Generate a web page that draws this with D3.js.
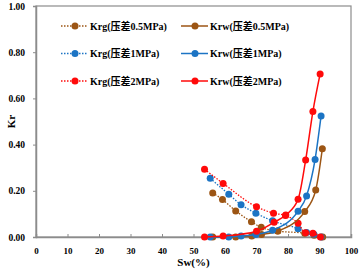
<!DOCTYPE html>
<html>
<head>
<meta charset="utf-8">
<script src="https://cdn.jsdelivr.net/npm/d3@7"></script>
<style>
  body { margin: 0; background: #fff; }
  text { font-family: "Liberation Serif", "Noto Sans CJK SC", serif; font-weight: bold; }
</style>
</head>
<body>
<script>
// data
let sw05g = [56.1, 59.2, 63.4, 68.4, 71.5, 76.7, 85.3, 88.3, 91.0],
    krg05 = [0.191, 0.162, 0.113, 0.066, 0.042, 0.026, 0.016, 0.008, 0];
let sw05w = [56.1, 63.4, 68.5, 71.6, 76.8, 85.3, 88.8, 90.9],
    krw05 = [0, 0, 0.004, 0.011, 0.026, 0.11, 0.203, 0.382];
let sw1g = [55.3, 61.2, 65.1, 69.8, 75.1, 83.2, 85.9, 88.2, 90.5],
    krg1 = [0.254, 0.185, 0.14, 0.103, 0.07, 0.036, 0.02, 0.012, 0];
let sw1w = [55.3, 61.2, 65.1, 69.8, 75.1, 83.2, 85.9, 88.6, 90.5],
    krw1 = [0, 0, 0.004, 0.011, 0.029, 0.112, 0.178, 0.336, 0.524];
let sw2g = [53.5, 59.4, 70.0, 75.4, 79.2, 83.2, 85.6, 87.9, 90.3],
    krg2 = [0.293, 0.232, 0.131, 0.103, 0.093, 0.059, 0.018, 0.016, 0];
let sw2w = [53.5, 59.4, 70.0, 75.6, 79.3, 83.2, 85.6, 87.9, 90.2],
    krw2 = [0, 0.004, 0.025, 0.064, 0.095, 0.163, 0.333, 0.543, 0.706];

let xTicks = [0, 10, 20, 30, 40, 50, 60, 70, 80, 90, 100];
let yTicks = [0, 0.2, 0.4, 0.6, 0.8, 1.0];

let series = [
  {name: "Krg(压差0.5MPa)", sw: sw05g, kr: krg05, color: "#9C5514", dotted: true, col: 0, row: 0},
  {name: "Krg(压差1MPa)", sw: sw1g, kr: krg1, color: "#1C74C4", dotted: true, col: 0, row: 1},
  {name: "Krg(压差2MPa)", sw: sw2g, kr: krg2, color: "#FF0A0A", dotted: true, col: 0, row: 2},
  {name: "Krw(压差0.5MPa)", sw: sw05w, kr: krw05, color: "#9C5514", dotted: false, col: 1, row: 0},
  {name: "Krw(压差1MPa)", sw: sw1w, kr: krw1, color: "#1C74C4", dotted: false, col: 1, row: 1},
  {name: "Krw(压差2MPa)", sw: sw2w, kr: krw2, color: "#FF0A0A", dotted: false, col: 1, row: 2}
];

let margin = {top: 6, right: 8, bottom: 34, left: 36},
    width = 359 - margin.left - margin.right,
    height = 271 - margin.top - margin.bottom;

let svg = d3.select("body")
  .append("svg")
  .attr("width", 359)
  .attr("height", 271)
  .append("g")
  .attr("transform", "translate(" + margin.left + "," + margin.top + ")");

let x = d3.scaleLinear().domain([0, 100]).range([0, width]);
let y = d3.scaleLinear().domain([0, 1]).range([height, 0]);

// frame
svg.append("rect")
  .attr("width", width).attr("height", height)
  .attr("fill", "none").attr("stroke", "#8c8c8c").attr("stroke-width", 1.2);

// x axis
let gx = svg.append("g")
  .attr("transform", "translate(0," + height + ")")
  .call(d3.axisBottom(x).tickValues(xTicks).tickSize(-3).tickPadding(11).tickFormat(d3.format("d")));
gx.select(".domain").attr("stroke", "#8c8c8c").attr("stroke-width", 1.5);
gx.selectAll(".tick line").attr("stroke", "#8c8c8c");
gx.selectAll("text").attr("font-size", 9).attr("fill", "#000");

// y axis
let gy = svg.append("g")
  .call(d3.axisLeft(y).tickValues(yTicks).tickSize(3).tickPadding(8).tickFormat(d3.format(".2f")));
gy.select(".domain").attr("stroke", "#8c8c8c").attr("stroke-width", 1.5);
gy.selectAll(".tick line").attr("stroke", "#8c8c8c");
gy.selectAll("text").attr("font-size", 9.5).attr("fill", "#000");

// axis titles
svg.append("text")
  .attr("x", width / 2).attr("y", height + 29)
  .attr("text-anchor", "middle").attr("font-size", 11)
  .text("Sw(%)");
svg.append("text")
  .attr("transform", "translate(-21," + (height / 2) + ") rotate(-90)")
  .attr("text-anchor", "middle").attr("font-size", 11)
  .text("Kr");

let line = d3.line()
  .x(function(d) { return x(d[0]) })
  .y(function(d) { return y(d[1]) })
  .curve(d3.curveMonotoneX);

series.forEach(function(s) {
  let pts = s.sw.map(function(v, i) { return [v, s.kr[i]] });
  svg.append("path")
    .datum(pts)
    .attr("fill", "none")
    .attr("stroke", s.color)
    .attr("stroke-width", s.dotted ? 1.3 : 1.5)
    .attr("stroke-dasharray", s.dotted ? "1.5,1.5" : null)
    .attr("d", line);
  svg.selectAll(null)
    .data(pts)
    .enter().append("circle")
    .attr("cx", function(d) { return x(d[0]) })
    .attr("cy", function(d) { return y(d[1]) })
    .attr("r", 3.5)
    .attr("fill", s.color);
});

// legend
let legend = svg.append("g");
series.forEach(function(s) {
  let lx = s.col === 0 ? 25 : 145,
      ly = 20 + s.row * 27.5;
  legend.append("line")
    .attr("x1", lx).attr("x2", lx + 27)
    .attr("y1", ly).attr("y2", ly)
    .attr("stroke", s.color)
    .attr("stroke-width", s.dotted ? 1.3 : 1.5)
    .attr("stroke-dasharray", s.dotted ? "1.5,1.5" : null);
  legend.append("circle")
    .attr("cx", lx + 14).attr("cy", ly).attr("r", 3.5).attr("fill", s.color);
  legend.append("text")
    .attr("x", lx + 29).attr("y", ly + 3.5)
    .attr("font-size", 10)
    .text(s.name);
});
</script>
</body>
</html>
